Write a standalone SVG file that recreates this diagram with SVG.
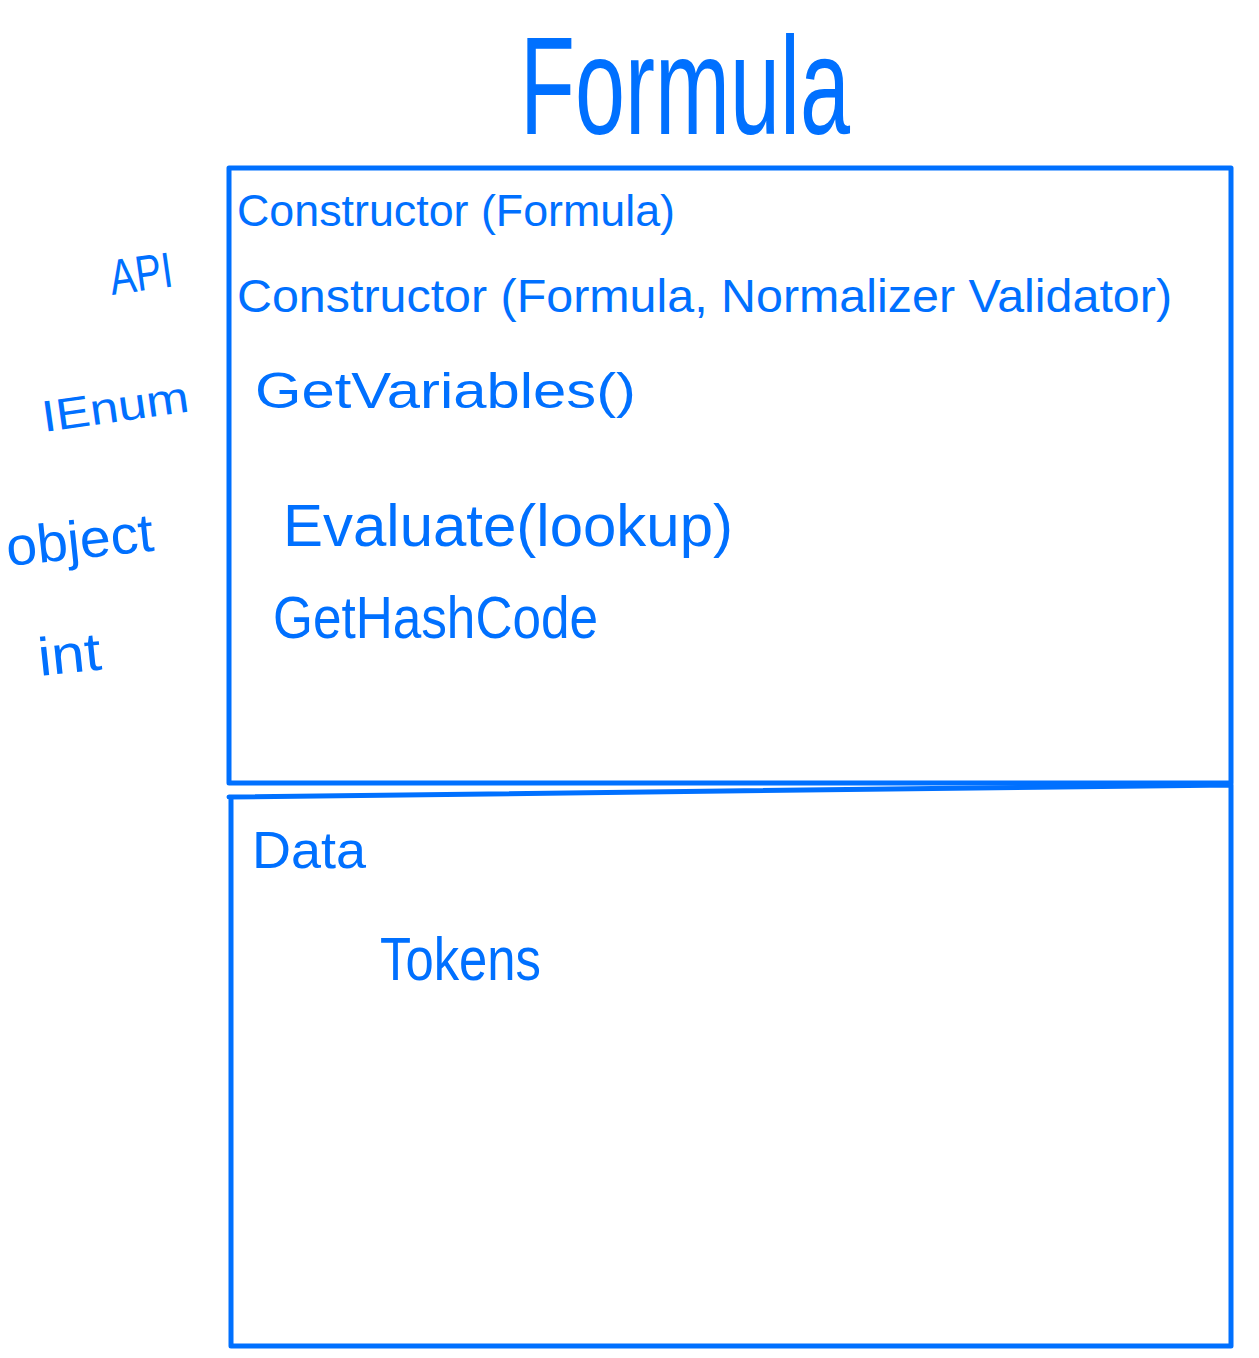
<svg xmlns="http://www.w3.org/2000/svg" width="1259" height="1358" viewBox="0 0 1259 1358">
<style>
.ink{fill:#0070FF;font-family:"Liberation Sans",Arial,sans-serif;}
.ln{stroke:#0070FF;stroke-width:5;fill:none;stroke-linecap:round;stroke-linejoin:round;}
</style>
<rect width="1259" height="1358" fill="#fff"/>
<g id="title"><text class="ink" x="520" y="134" font-size="140" textLength="330" lengthAdjust="spacingAndGlyphs">Formula</text></g>
<g id="api-box">
<path class="ln" d="M229,783 L229,168 L1231,168 L1231,783 L229,783"/>
<text class="ink" x="237" y="226" font-size="44" textLength="438" lengthAdjust="spacingAndGlyphs">Constructor (Formula)</text>
<text class="ink" x="237" y="312" font-size="46" textLength="935" lengthAdjust="spacingAndGlyphs">Constructor (Formula, Normalizer Validator)</text>
<text class="ink" x="255" y="408" font-size="50" textLength="381" lengthAdjust="spacingAndGlyphs">GetVariables()</text>
<text class="ink" x="283" y="546" font-size="60" textLength="450" lengthAdjust="spacingAndGlyphs">Evaluate(lookup)</text>
<text class="ink" x="273" y="638" font-size="60" textLength="325" lengthAdjust="spacingAndGlyphs">GetHashCode</text>
</g>
<g id="data-box">
<path class="ln" d="M229,797 L1231,785 L1231,1346 L231,1346 L231,797"/>
<text class="ink" x="252" y="868" font-size="52" textLength="114" lengthAdjust="spacingAndGlyphs">Data</text>
<text class="ink" x="380" y="980" font-size="62" textLength="161" lengthAdjust="spacingAndGlyphs">Tokens</text>
</g>
<g id="labels">
<text class="ink" x="112" y="295" font-size="50" textLength="63" lengthAdjust="spacingAndGlyphs" transform="rotate(-8 112 295)">API</text>
<text class="ink" x="44" y="432" font-size="44" textLength="148" lengthAdjust="spacingAndGlyphs" transform="rotate(-8 44 432)">IEnum</text>
<text class="ink" x="8" y="566" font-size="54" textLength="148" lengthAdjust="spacingAndGlyphs" transform="rotate(-6 8 566)">object</text>
<text class="ink" x="40" y="676" font-size="54" textLength="63" lengthAdjust="spacingAndGlyphs" transform="rotate(-6 40 676)">int</text>
</g>
<g id="connectors"></g>
</svg>
